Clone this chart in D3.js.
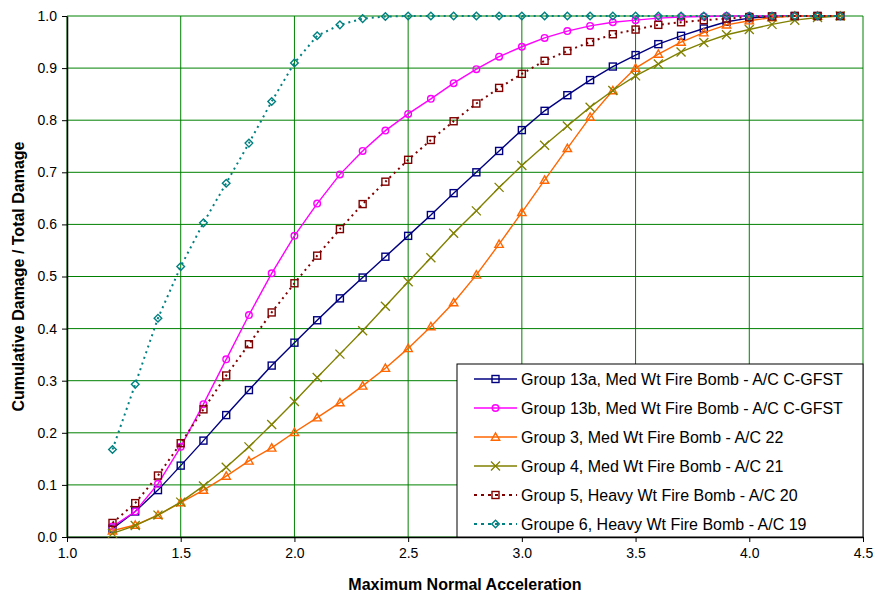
<!DOCTYPE html>
<html>
<head>
<meta charset="utf-8">
<script src="https://cdn.jsdelivr.net/npm/d3@7"></script>
<style>
  html, body { margin: 0; padding: 0; background: #fff; }
  svg { display: block; font-family: Arial, "Liberation Sans", sans-serif; }
</style>
</head>
<body>
<svg id="chart" width="873" height="595"></svg>
<script>
// Maximum normal acceleration (g) at which each damage fraction is evaluated
const accel = [1.2, 1.3, 1.4, 1.5, 1.6, 1.7, 1.8, 1.9, 2.0, 2.1,
               2.2, 2.3, 2.4, 2.5, 2.6, 2.7, 2.8, 2.9, 3.0, 3.1,
               3.2, 3.3, 3.4, 3.5, 3.6, 3.7, 3.8, 3.9, 4.0, 4.1,
               4.2, 4.3, 4.4];

// Cumulative damage / total damage per group
const group13a = [0.016, 0.049, 0.090, 0.137, 0.185, 0.234, 0.282, 0.329, 0.373, 0.416,
                  0.458, 0.498, 0.538, 0.578, 0.618, 0.660, 0.700, 0.741, 0.781, 0.818,
                  0.848, 0.877, 0.903, 0.925, 0.946, 0.962, 0.976, 0.989, 0.996, 0.999,
                  1.000, 1.000, 1.000];
const group13b = [0.020, 0.049, 0.102, 0.173, 0.255, 0.341, 0.426, 0.506, 0.578, 0.640,
                  0.696, 0.741, 0.780, 0.812, 0.841, 0.871, 0.898, 0.922, 0.941, 0.958,
                  0.971, 0.981, 0.988, 0.992, 0.996, 0.998, 0.999, 1.000, 1.000, 1.000,
                  1.000, 1.000, 1.000];
const group3   = [0.012, 0.023, 0.042, 0.066, 0.090, 0.117, 0.146, 0.171, 0.201, 0.229,
                  0.258, 0.290, 0.324, 0.362, 0.404, 0.450, 0.503, 0.562, 0.623, 0.685,
                  0.746, 0.806, 0.857, 0.900, 0.927, 0.950, 0.968, 0.983, 0.991, 0.997,
                  1.000, 1.000, 1.000];
const group4   = [0.007, 0.022, 0.042, 0.067, 0.098, 0.134, 0.173, 0.216, 0.260, 0.306,
                  0.351, 0.396, 0.443, 0.490, 0.536, 0.583, 0.626, 0.671, 0.713, 0.752,
                  0.789, 0.825, 0.857, 0.885, 0.908, 0.931, 0.949, 0.964, 0.974, 0.984,
                  0.992, 0.997, 1.000];
const group5   = [0.027, 0.065, 0.118, 0.180, 0.245, 0.310, 0.370, 0.431, 0.487, 0.540,
                  0.591, 0.639, 0.682, 0.724, 0.762, 0.798, 0.832, 0.862, 0.889, 0.914,
                  0.933, 0.950, 0.965, 0.974, 0.983, 0.988, 0.992, 0.995, 0.998, 0.999,
                  1.000, 1.000, 1.000];
const group6   = [0.168, 0.293, 0.420, 0.519, 0.603, 0.679, 0.756, 0.836, 0.910, 0.962,
                  0.983, 0.995, 0.999, 1.000, 1.000, 1.000, 1.000, 1.000, 1.000, 1.000,
                  1.000, 1.000, 1.000, 1.000, 1.000, 1.000, 1.000, 1.000, 1.000, 1.000,
                  1.000, 1.000, 1.000];

const seriesNames = [
  "Group 13a, Med Wt Fire Bomb - A/C C-GFST",
  "Group 13b, Med Wt Fire Bomb - A/C C-GFST",
  "Group 3, Med Wt Fire Bomb - A/C 22",
  "Group 4, Med Wt Fire Bomb - A/C 21",
  "Group 5, Heavy Wt Fire Bomb - A/C 20",
  "Groupe 6, Heavy Wt Fire Bomb - A/C 19"
];
const seriesValues = [group13a, group13b, group3, group4, group5, group6];

const xTicks = [1.0, 1.5, 2.0, 2.5, 3.0, 3.5, 4.0, 4.5];
const yTicks = [0.0, 0.1, 0.2, 0.3, 0.4, 0.5, 0.6, 0.7, 0.8, 0.9, 1.0];

const xTitle = "Maximum Normal Acceleration";
const yTitle = "Cumulative Damage / Total Damage";

// Per-series styling
const styles = [
  { color: "#000080", dash: null,  marker: "square"   },
  { color: "#FF00FF", dash: null,  marker: "circle"   },
  { color: "#FF6600", dash: null,  marker: "triangle" },
  { color: "#808000", dash: null,  marker: "x"        },
  { color: "#800000", dash: "2,4", marker: "square"   },
  { color: "#008080", dash: "2,4", marker: "diamond"  }
];

const svg = d3.select("#chart");
const plot = { left: 67, right: 863, top: 16, bottom: 537 };

const x = d3.scaleLinear().domain([1.0, 4.5]).range([plot.left, plot.right]);
const y = d3.scaleLinear().domain([0.0, 1.0]).range([plot.bottom, plot.top]);

const grid = "#008000";

// Gridlines
svg.append("g").selectAll("line").data(yTicks).join("line")
  .attr("x1", plot.left).attr("x2", plot.right)
  .attr("y1", d => y(d)).attr("y2", d => y(d))
  .attr("stroke", grid).attr("stroke-width", 1);
svg.append("g").selectAll("line").data(xTicks).join("line")
  .attr("x1", d => x(d)).attr("x2", d => x(d))
  .attr("y1", plot.top).attr("y2", plot.bottom)
  .attr("stroke", grid).attr("stroke-width", 1);

// Axes
const xAxis = d3.axisBottom(x).tickValues(xTicks).tickFormat(d3.format(".1f"))
  .tickSizeInner(5).tickSizeOuter(0).tickPadding(6);
const yAxis = d3.axisLeft(y).tickValues(yTicks).tickFormat(d3.format(".1f"))
  .tickSizeInner(5).tickSizeOuter(0).tickPadding(5);

const gx = svg.append("g").attr("transform", `translate(0,${plot.bottom})`).call(xAxis);
const gy = svg.append("g").attr("transform", `translate(${plot.left},0)`).call(yAxis);
[gx, gy].forEach(g => {
  g.select(".domain").attr("stroke", "#000").attr("stroke-width", 1.5);
  g.selectAll(".tick line").attr("stroke", "#000");
  g.selectAll(".tick text").attr("fill", "#000").attr("font-size", 14)
    .attr("font-family", "Arial, 'Liberation Sans', sans-serif");
});

// Axis titles
svg.append("text")
  .attr("x", 465).attr("y", 590)
  .attr("text-anchor", "middle")
  .attr("font-size", 16).attr("font-weight", "bold")
  .text(xTitle);
svg.append("text")
  .attr("transform", `translate(24,${(plot.top + plot.bottom) / 2}) rotate(-90)`)
  .attr("text-anchor", "middle")
  .attr("font-size", 16).attr("font-weight", "bold")
  .text(yTitle);

// Marker drawing
function drawMarker(g, kind, color) {
  if (kind === "square") {
    g.append("rect").attr("x", -3.5).attr("y", -3.5).attr("width", 7).attr("height", 7)
      .attr("fill", "none").attr("stroke", color).attr("stroke-width", 1.4);
  } else if (kind === "circle") {
    g.append("circle").attr("r", 3.3)
      .attr("fill", "none").attr("stroke", color).attr("stroke-width", 1.4);
  } else if (kind === "diamond") {
    g.append("path").attr("d", "M0,-3.8L3.8,0L0,3.8L-3.8,0Z")
      .attr("fill", "none").attr("stroke", color).attr("stroke-width", 1.4);
  } else if (kind === "triangle") {
    g.append("path").attr("d", "M0,-4.2L4.2,3.2L-4.2,3.2Z")
      .attr("fill", "none").attr("stroke", color).attr("stroke-width", 1.4);
  } else if (kind === "x") {
    g.append("path").attr("d", "M-4.5,-4.5L4.5,4.5M-4.5,4.5L4.5,-4.5")
      .attr("fill", "none").attr("stroke", color).attr("stroke-width", 1.3);
  }
}

const line = d3.line().x(d => x(d[0])).y(d => y(d[1]));

seriesValues.forEach((vals, i) => {
  const st = styles[i];
  const pts = accel.map((a, k) => [a, vals[k]]);
  const g = svg.append("g");
  g.append("path").datum(pts)
    .attr("d", line)
    .attr("fill", "none")
    .attr("stroke", st.color)
    .attr("stroke-width", st.dash ? 2 : 1.4)
    .attr("stroke-dasharray", st.dash);
  g.selectAll("g.m").data(pts).join("g").attr("class", "m")
    .attr("transform", d => `translate(${x(d[0])},${y(d[1])})`)
    .each(function() { drawMarker(d3.select(this), st.marker, st.color); });
});

// Legend
const legend = { left: 457, top: 364, width: 406, height: 173, rowH: 29 };
const lg = svg.append("g");
lg.append("rect")
  .attr("x", legend.left).attr("y", legend.top)
  .attr("width", legend.width).attr("height", legend.height)
  .attr("fill", "#fff").attr("stroke", "#000").attr("stroke-width", 1);

seriesNames.forEach((name, i) => {
  const st = styles[i];
  const cy = legend.top + 15 + i * legend.rowH;
  const row = lg.append("g");
  row.append("line")
    .attr("x1", legend.left + 17).attr("x2", legend.left + 60)
    .attr("y1", cy).attr("y2", cy)
    .attr("stroke", st.color)
    .attr("stroke-width", st.dash ? 2 : 1.4)
    .attr("stroke-dasharray", st.dash ? "3,4" : null);
  drawMarker(row.append("g").attr("transform", `translate(${legend.left + 38.5},${cy})`), st.marker, st.color);
  row.append("text")
    .attr("x", legend.left + 64).attr("y", cy + 6)
    .attr("font-size", 16).attr("fill", "#000")
    .text(name);
});
</script>
</body>
</html>
